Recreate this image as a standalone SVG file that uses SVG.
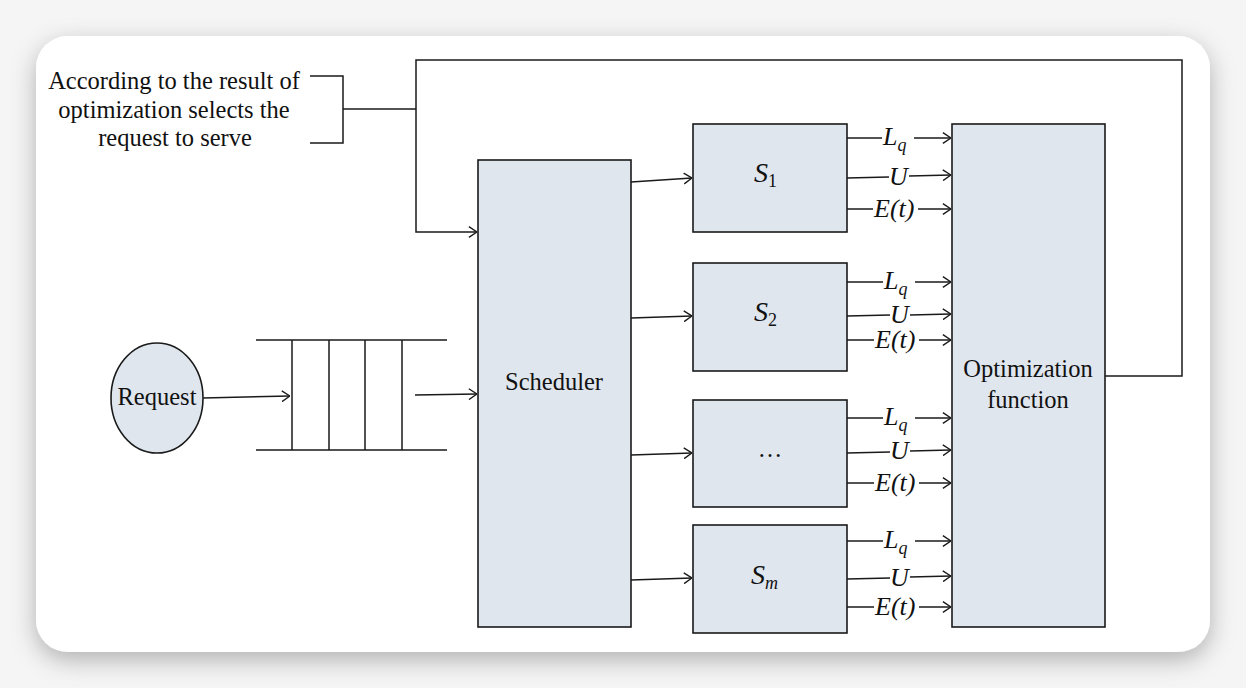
<svg xmlns="http://www.w3.org/2000/svg" width="1246" height="688" viewBox="0 0 1246 688">
<defs>
<filter id="sh" x="-5%" y="-8%" width="110%" height="120%">
<feDropShadow dx="0" dy="8" stdDeviation="12" flood-color="#000" flood-opacity="0.28"/>
</filter>
<marker id="arr" viewBox="0 0 9 12" refX="8.6" refY="6" markerWidth="9" markerHeight="12" orient="auto" markerUnits="userSpaceOnUse">
<path d="M0.5,0.6 L8.5,6 L0.5,11.4" fill="none" stroke="#1a1a1a" stroke-width="1.4"/>
</marker>
<style>
.box{fill:#dfe6ee;stroke:#1a1a1a;stroke-width:1.6}
.ln{fill:none;stroke:#1a1a1a;stroke-width:1.5}
.ar{fill:none;stroke:#1a1a1a;stroke-width:1.5;marker-end:url(#arr)}
.t{font-family:"Liberation Serif","Times New Roman",serif;font-size:24.5px;fill:#111}
.m{font-family:"Liberation Serif","Times New Roman",serif;font-size:26px;font-style:italic;fill:#111}
.s{font-family:"Liberation Serif","Times New Roman",serif;font-size:28px;font-style:italic;fill:#111}
.sub{font-size:18px;font-style:normal}
.subi{font-size:18px;font-style:italic}
</style>
</defs>
<rect x="0" y="0" width="1246" height="688" fill="#f5f5f5"/>
<rect x="36" y="36" width="1174" height="616" rx="32" fill="#ffffff" filter="url(#sh)"/>

<g id="note">
<text class="t" x="174" y="89" text-anchor="middle">According to the result of</text>
<text class="t" x="174" y="118" text-anchor="middle">optimization selects the</text>
<text class="t" x="175" y="146" text-anchor="middle">request to serve</text>
<path class="ln" d="M310,76 H343 V143 H310"/>
</g>

<g id="request">
<ellipse cx="157" cy="398" rx="46" ry="55" class="box"/>
<text class="t" x="157" y="405" text-anchor="middle">Request</text>
</g>

<g id="queue">
<path class="ln" d="M256,340 H447 M256,450 H447 M292,340 V450 M329,340 V450 M365,340 V450 M402,340 V450"/>
</g>

<g id="scheduler">
<rect x="478" y="160" width="153" height="467" class="box"/>
<text class="t" x="554" y="390" text-anchor="middle">Scheduler</text>
</g>

<g id="s1">
<rect x="693" y="124" width="154" height="108" class="box"/>
<text class="s" x="754" y="182">S<tspan class="sub" dy="5">1</tspan></text>
</g>
<g id="s2">
<rect x="693" y="263" width="154" height="108" class="box"/>
<text class="s" x="754" y="321">S<tspan class="sub" dy="5">2</tspan></text>
</g>
<g id="sdots">
<rect x="693" y="400" width="154" height="107" class="box"/>
<text class="t" x="770" y="457" text-anchor="middle">…</text>
</g>
<g id="sm">
<rect x="693" y="525" width="154" height="108" class="box"/>
<text class="s" x="751" y="584">S<tspan class="subi" dy="5">m</tspan></text>
</g>

<g id="optimization">
<rect x="952" y="124" width="153" height="503" class="box"/>
<text class="t" x="1028" y="377" text-anchor="middle">Optimization</text>
<text class="t" x="1028" y="408" text-anchor="middle">function</text>
</g>

<g id="labels">
<text class="m" x="883" y="145">L<tspan class="subi" dy="6">q</tspan></text>
<text class="m" x="889" y="185">U</text>
<text class="m" x="874" y="217">E(t)</text>

<text class="m" x="884" y="289">L<tspan class="subi" dy="6">q</tspan></text>
<text class="m" x="890" y="323">U</text>
<text class="m" x="875" y="348">E(t)</text>

<text class="m" x="884" y="425">L<tspan class="subi" dy="6">q</tspan></text>
<text class="m" x="890" y="459">U</text>
<text class="m" x="875" y="491">E(t)</text>

<text class="m" x="884" y="548">L<tspan class="subi" dy="6">q</tspan></text>
<text class="m" x="890" y="586">U</text>
<text class="m" x="875" y="615">E(t)</text>
</g>

<g id="connectors">
<path class="ar" d="M1105,376 H1182 V60 H416 V232 H477"/>
<path class="ln" d="M343,109 H416"/>
<path class="ar" d="M203,398 L290,396"/>
<path class="ar" d="M415,395 L477,394"/>
<path class="ar" d="M631,182 L692,178"/>
<path class="ar" d="M631,318 L692,316"/>
<path class="ar" d="M631,455 L692,453"/>
<path class="ar" d="M631,580 L692,578"/>

<path class="ln" d="M847,138 H882"/><path class="ar" d="M914,138 H951"/>
<path class="ln" d="M847,178 L889,177"/><path class="ar" d="M909,176 L951,175"/>
<path class="ln" d="M847,209 H873"/><path class="ar" d="M918,209 H951"/>

<path class="ln" d="M847,282 H883"/><path class="ar" d="M915,282 H951"/>
<path class="ln" d="M847,316 L890,315"/><path class="ar" d="M910,315 L951,314"/>
<path class="ln" d="M847,340 H874"/><path class="ar" d="M919,340 H951"/>

<path class="ln" d="M847,418 H883"/><path class="ar" d="M915,418 H951"/>
<path class="ln" d="M847,453 L890,452"/><path class="ar" d="M910,451 L951,450"/>
<path class="ln" d="M847,483 H874"/><path class="ar" d="M919,483 H951"/>

<path class="ln" d="M847,541 H883"/><path class="ar" d="M915,541 H951"/>
<path class="ln" d="M847,579 L890,578"/><path class="ar" d="M910,577 L951,576"/>
<path class="ln" d="M847,607 H874"/><path class="ar" d="M919,607 H951"/>
</g>
</svg>
